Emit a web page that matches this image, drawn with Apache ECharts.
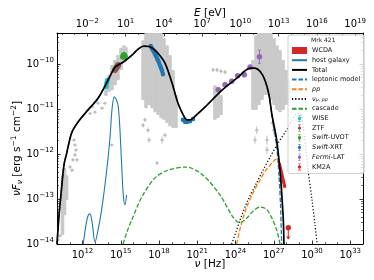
<!DOCTYPE html>
<html><head><meta charset="utf-8">
<script src="https://cdn.jsdelivr.net/npm/echarts@6/dist/echarts.min.js"></script>
<style>html,body{margin:0;padding:0;background:#fff}#c{width:374px;height:280px}</style>
</head><body><div id="c"></div>
<script>
// ---- axis ranges / ticks (log10 units) ----
const nuMin = 10, nuMax = 34;
const fluxMin = -14, fluxMax = -9.31;
const LOG_INV_H = 14.383;            // log10(nu/Hz) - log10(E/eV)
const nuTicks = [12, 15, 18, 21, 24, 27, 30, 33];
const eTicks = [-2, 1, 4, 7, 10, 13, 16, 19];
const fluxTicks = [-14, -13, -12, -11, -10];

// ---- model curves [log10 nu, log10 nuFnu] ----
const totalCurve = [[10.0,-14.0],[10.16,-13.36],[10.37,-12.73],[10.55,-12.24],[10.76,-11.98],[11.15,-11.53],[11.65,-11.29],[12.43,-11.02],[13.22,-10.76],[14.0,-10.36],[14.55,-10.07],[15.18,-9.96],[15.88,-9.80],[16.4,-9.66],[16.8,-9.6],[17.2,-9.61],[17.5,-9.65],[17.92,-9.76],[18.47,-9.98],[19.02,-10.42],[19.49,-10.87],[19.9,-11.13],[20.2,-11.24],[20.45,-11.24],[20.67,-11.2],[21.6,-10.96],[22.94,-10.58],[24.2,-10.29],[24.7,-10.16],[25.14,-10.09],[25.5,-10.09],[25.92,-10.16],[26.31,-10.36],[26.63,-10.69],[26.86,-11.13],[27.23,-11.69],[27.49,-12.36],[27.62,-12.87],[27.75,-13.47],[27.8,-14.0]];
const leptonicCurve = [[10.0,-14.0],[10.16,-13.36],[10.37,-12.73],[10.55,-12.24],[10.76,-11.98],[11.15,-11.53],[11.65,-11.29],[12.43,-11.02],[13.22,-10.76],[14.0,-10.36],[14.55,-10.07],[15.18,-9.96],[15.88,-9.80],[16.4,-9.66],[16.8,-9.6],[17.2,-9.61],[17.5,-9.65],[17.92,-9.76],[18.47,-9.98],[19.02,-10.42],[19.49,-10.87],[19.9,-11.13],[20.2,-11.24],[20.45,-11.24],[20.67,-11.2],[21.6,-10.96],[22.94,-10.58],[24.2,-10.29],[24.7,-10.16],[25.14,-10.09],[25.5,-10.09],[25.92,-10.16],[26.31,-10.36],[26.63,-10.69],[26.86,-11.15],[27.23,-11.84],[27.41,-12.47],[27.53,-13.13],[27.62,-14.0]];
const hostGalaxy = [[12.06,-14.0],[12.27,-13.58],[12.45,-13.36],[12.59,-13.33],[12.75,-13.51],[12.98,-13.96],[13.14,-13.8],[13.5,-13.24],[13.9,-12.36],[14.16,-11.62],[14.31,-11.02],[14.49,-10.73],[14.67,-10.8],[14.81,-10.96],[14.94,-11.47],[15.07,-12.24],[15.2,-12.91],[15.33,-13.13],[15.46,-12.91]];
const ppCurve = [[24.09,-14.0],[24.43,-13.58],[24.88,-13.18],[25.37,-12.87],[25.92,-12.58],[26.39,-12.36],[26.86,-12.2],[27.23,-12.11],[27.41,-12.18],[27.57,-12.47],[27.65,-13.02]];
const numuCurve = [[23.7,-14.0],[24.04,-13.73],[24.35,-13.47],[24.98,-13.02],[25.66,-12.64],[26.16,-12.36],[26.71,-12.07],[27.33,-11.76],[28.0,-11.47],[28.67,-11.13],[29.06,-11.1],[29.4,-11.6],[29.69,-12.36],[30.0,-13.02],[30.24,-13.58],[30.4,-14.0]];
const cascadeCurve = [[15.18,-14.0],[15.49,-13.73],[15.86,-13.47],[16.64,-12.96],[17.69,-12.53],[18.71,-12.36],[20.12,-12.29],[21.45,-12.47],[22.78,-12.91],[23.8,-13.4],[24.35,-13.53],[24.9,-13.42],[25.37,-13.27],[25.92,-13.18],[26.39,-13.22],[26.78,-13.38],[27.23,-13.69],[27.49,-14.0]];
const wcdaBand = [[27.43,-12.2],[27.88,-12.75]];

// ---- data points [log nu, log nuFnu, error (dex)] ----
const wisePts = [[13.86,-10.5,0.03],[13.9,-10.42,0.03],[13.95,-10.36,0.03]];
const ztfPts = [[14.55,-10.13,0.02],[14.62,-10.1,0.02],[14.68,-10.07,0.02],[14.74,-10.05,0.02],[14.8,-10.02,0.02]];
const uvotPts = [[15.18,-9.84,0.03],[15.25,-9.8,0.03],[15.32,-9.83,0.03]];
const xrtPts = [[17.35,-9.6,0.03],[17.42,-9.64,0.03],[17.5,-9.68,0.03],[17.57,-9.71,0.03],[17.64,-9.75,0.03],[17.71,-9.79,0.03],[17.78,-9.83,0.03],[17.86,-9.88,0.03],[17.93,-9.92,0.03],[18.0,-9.97,0.03],[18.08,-10.03,0.03],[18.16,-10.09,0.04],[18.24,-10.15,0.04],[18.31,-10.22,0.04],
  [19.88,-11.24,0.03],[20.04,-11.28,0.03],[20.2,-11.29,0.03],[20.43,-11.27,0.03],[20.67,-11.22,0.03]];
const fermiPts = [[22.65,-10.57,0.04],[23.18,-10.46,0.04],[23.7,-10.38,0.04],[24.17,-10.26,0.04],[24.69,-10.24,0.04],[25.14,-10.07,0.05],[25.88,-9.84,0.15]];
const km2aPts = [[28.14,-13.64]];

// ---- archival (grey) data: vertical clusters [log nu, low, high] and single points [log nu, log nuFnu, err] ----
const archivalClusters = [[10.43,-13.8,-12.47],[10.59,-13.36,-12.31],[10.75,-13.02,-12.47],
 [13.84,-10.71,-10.4],[14.08,-10.62,-10.24],[14.31,-10.58,-10.02],[14.55,-10.47,-9.91],[14.78,-10.36,-9.8],[15.02,-10.13,-9.64],[15.25,-9.96,-9.58],[15.41,-9.91,-9.62],
 [16.75,-10.8,-9.47],[16.98,-10.98,-9.31],[17.22,-10.91,-9.2],[17.45,-10.98,-9.2],[17.69,-11.07,-9.2],[17.92,-11.13,-9.2],[18.16,-11.2,-9.31],[18.39,-11.24,-9.42],[18.63,-11.31,-9.58],[18.86,-11.38,-9.8],[19.1,-11.42,-10.13],[19.33,-11.42,-10.69],
 [22.39,-11.24,-10.47],[22.63,-11.2,-10.53],[22.86,-11.13,-10.69],
 [25.37,-11.02,-9.91],[25.61,-11.02,-9.36],[25.84,-10.91,-9.2],[26.08,-10.8,-9.2],[26.31,-10.69,-9.2],[26.55,-10.69,-9.2],[26.78,-10.8,-9.31],[27.02,-10.91,-9.42],[27.25,-11.02,-9.58],[27.49,-11.07,-9.69],[27.73,-11.02,-9.91],[27.96,-10.91,-10.13],[28.2,-10.8,-10.36]];
const archivalPts = [[10.08,-13.91,0.03],[10.24,-13.82,0.03],[11.02,-12.29,0.04],[11.25,-12.13,0.04],[11.41,-12.02,0.04],[11.41,-11.8,0.04],[11.49,-11.91,0.04],[11.57,-12.13,0.04],[11.18,-12.36,0.04],[11.33,-11.69,0.04],
 [12.43,-11.02,0.03],[12.6,-11.1,0.03],[12.75,-10.95,0.03],[12.98,-11.07,0.03],[13.22,-10.87,0.03],[13.53,-10.98,0.03],[13.76,-10.87,0.03],[14.29,-11.8,0.03],
 [16.75,-11.36,0.05],[16.9,-11.24,0.05],[17.14,-11.47,0.06],[17.22,-11.69,0.06],[18.24,-11.69,0.08],[17.84,-12.2,0.04],[18.47,-11.58,0.05],
 [22.24,-10.13,0.05],[22.55,-10.13,0.05],[22.86,-10.16,0.05],[23.18,-10.18,0.05],
 [25.53,-11.69,0.08],[25.66,-11.47,0.08],[26.47,-11.69,0.1],[26.47,-11.91,0.08],[26.9,-11.31,0.08],[27.0,-11.47,0.08]];

const COL = {blue:'#1f77b4', orange:'#ff7f0e', green:'#2ca02c', red:'#d62728', purple:'#9467bd', brown:'#8c564b', cyan:'#17becf', grey:'#c9c9c9'};
const FONT = 'DejaVu Sans';

function supLabel(v){ const s = v < 0 ? '\u2212' + Math.abs(v) : String(v); return '{b|10}{s|' + s + '}'; }
const tickRich = {b:{fontSize:10, lineHeight:14, fontFamily:FONT, color:'#000'}, s:{fontSize:7, lineHeight:8, verticalAlign:'top', fontFamily:FONT, color:'#000'}};

const minorNu = []; for (let k = nuMin; k <= nuMax; k++) if (!nuTicks.includes(k)) minorNu.push(k);
const minorE = []; for (let k = Math.ceil(nuMin - LOG_INV_H); k <= nuMax - LOG_INV_H; k++) if (!eTicks.includes(k)) minorE.push(k);
const minorF = []; for (let d = -15; d < -9; d++) for (let m = 2; m <= 9; m++) { const v = d + Math.log10(m); if (v > fluxMin && v < fluxMax) minorF.push(v); }

function xAx(pos, min, max, major, minor, margin){
  return [
    {type:'value', position:pos, min, max, axisLine:{show:true, onZero:false, lineStyle:{color:'#000', width:1}},
     axisTick:{show:true, inside:true, length:3.5, customValues:major, lineStyle:{color:'#000', width:0.8}},
     axisLabel:{show:true, customValues:major, margin, formatter:supLabel, rich:tickRich},
     splitLine:{show:false}},
    {type:'value', position:pos, min, max, axisLine:{show:false, onZero:false},
     axisTick:{show:true, inside:true, length:2, customValues:minor, lineStyle:{color:'#000', width:0.6}},
     axisLabel:{show:false}, splitLine:{show:false}}
  ];
}
function yAx(pos, labels){
  return [
    {type:'value', position:pos, min:fluxMin, max:fluxMax, axisLine:{show:true, onZero:false, lineStyle:{color:'#000', width:1}},
     axisTick:{show:true, inside:true, length:3.5, customValues:fluxTicks, lineStyle:{color:'#000', width:0.8}},
     axisLabel:{show:labels, customValues:fluxTicks, margin:3, formatter:supLabel, rich:tickRich},
     splitLine:{show:false}},
    {type:'value', position:pos, min:fluxMin, max:fluxMax, axisLine:{show:false, onZero:false},
     axisTick:{show:true, inside:true, length:2, customValues:minorF, lineStyle:{color:'#000', width:0.6}},
     axisLabel:{show:false}, splitLine:{show:false}}
  ];
}
const nameStyle = {fontSize:10.5, fontFamily:FONT, color:'#000', rich:{i:{fontStyle:'italic', fontSize:10.5, fontFamily:FONT}}};
const xAxes = [...xAx('bottom', nuMin, nuMax, nuTicks, minorNu, 4), ...xAx('top', nuMin - LOG_INV_H, nuMax - LOG_INV_H, eTicks, minorE, 1.5)];
Object.assign(xAxes[0], {name:'{i|\u03bd} [Hz]', nameLocation:'middle', nameGap:15, nameMoveOverlap:false, nameTextStyle:nameStyle});
Object.assign(xAxes[2], {name:'{i|E} [eV]', nameLocation:'middle', nameGap:14, nameMoveOverlap:false, nameTextStyle:nameStyle});
const yAxes = [...yAx('left', true), ...yAx('right', false)];
Object.assign(yAxes[0], {
  name:'{i|\u03bdF}{sub|\u03bd} [erg s{sup|\u22121} cm{sup|\u22122}]',
  nameLocation:'middle', nameGap:33, nameRotate:90, nameMoveOverlap:false,
  nameTextStyle:{fontSize:10.5, fontFamily:FONT, color:'#000', padding:[0,20,0,0], rich:{
    i:{fontStyle:'italic', fontSize:10.5, fontFamily:FONT, lineHeight:14},
    sub:{fontStyle:'italic', fontSize:7.5, fontFamily:FONT, verticalAlign:'bottom', lineHeight:9},
    sup:{fontSize:7.5, fontFamily:FONT, verticalAlign:'top', lineHeight:9}}}
});

function line(name, data, color, width, type, z){
  return {type:'line', name, data, symbol:'none', showSymbol:false, smooth:0.3, clip:true, z:z || 2,
    xAxisIndex:0, yAxisIndex:0, lineStyle:{color, width, type}, itemStyle:{color}, emphasis:{disabled:true}};
}
function errBars(data, color, z){
  return {type:'custom', name:'_err', data, clip:true, z:z, silent:true, xAxisIndex:0, yAxisIndex:0, encode:{x:0, y:1},
    renderItem(p, api){
      const x = api.value(0), y = api.value(1), e = api.value(2);
      const a = api.coord([x, y - e]), b = api.coord([x, y + e]);
      return {type:'group', children:[
        {type:'line', shape:{x1:a[0], y1:a[1], x2:b[0], y2:b[1]}, style:{stroke:color, lineWidth:1}},
        {type:'line', shape:{x1:a[0]-1.5, y1:a[1], x2:a[0]+1.5, y2:a[1]}, style:{stroke:color, lineWidth:0.8}},
        {type:'line', shape:{x1:b[0]-1.5, y1:b[1], x2:b[0]+1.5, y2:b[1]}, style:{stroke:color, lineWidth:0.8}}]};
    }};
}
function pts(name, data, color, size, z){
  return {type:'scatter', name, data:data.map(d => [d[0], d[1]]), symbol:'circle', symbolSize:size, clip:true, z:z || 4,
    xAxisIndex:0, yAxisIndex:0, itemStyle:{color, opacity:1}, emphasis:{disabled:true}};
}

const series = [
  {type:'custom', name:'_archival', data:archivalClusters, clip:true, z:1, silent:true, encode:{x:0, y:[1,2]},
   renderItem(p, api){
     const x = api.value(0), lo = api.value(1), hi = api.value(2);
     const a = api.coord([x, hi]), b = api.coord([x, lo]);
     return {type:'rect', shape:{x:a[0]-1.8, y:a[1], width:3.6, height:b[1]-a[1], r:1.2}, style:{fill:COL.grey}};
   }},
  {type:'custom', name:'_archivalPts', data:archivalPts, clip:true, z:1, silent:true, encode:{x:0, y:1},
   renderItem(p, api){
     const x = api.value(0), y = api.value(1), e = api.value(2);
     const c = api.coord([x, y]), a = api.coord([x, y - e]), b = api.coord([x, y + e]);
     return {type:'group', children:[
       {type:'line', shape:{x1:a[0], y1:a[1], x2:b[0], y2:b[1]}, style:{stroke:'#bdbdbd', lineWidth:1}},
       {type:'line', shape:{x1:c[0]-1.8, y1:c[1], x2:c[0]+1.8, y2:c[1]}, style:{stroke:'#bdbdbd', lineWidth:1}},
       {type:'circle', shape:{cx:c[0], cy:c[1], r:1.3}, style:{fill:'#bdbdbd'}}]};
   }},
  line('WCDA', wcdaBand, COL.red, 3.2, 'solid', 3),
  line('host galaxy', hostGalaxy, COL.blue, 1.1, 'solid', 2),
  line('leptonic model', leptonicCurve, COL.blue, 1.3, [4.5,2], 2),
  line('pp', ppCurve, COL.orange, 1.3, [4.5,2], 2),
  line('\u03bd\u03bc,pp', numuCurve, '#000', 1.2, [1.2,2], 2),
  line('cascade', cascadeCurve, COL.green, 1.3, [4.5,2], 2),
  errBars(wisePts, COL.cyan, 3), errBars(ztfPts, COL.brown, 3), errBars(uvotPts, COL.green, 3),
  errBars(xrtPts, COL.blue, 3), errBars(fermiPts, COL.purple, 3),
  pts('WISE', wisePts, COL.cyan, 5), pts('ZTF', ztfPts, COL.brown, 6), pts('Swift-UVOT', uvotPts, COL.green, 6),
  pts('Swift-XRT', xrtPts, COL.blue, 4.5), pts('Fermi-LAT', fermiPts, COL.purple, 5.5),
  line('Total', totalCurve, '#000', 1.7, 'solid', 5),
  {type:'custom', name:'KM2A', data:km2aPts, clip:true, z:6, encode:{x:0, y:1}, itemStyle:{color:COL.red},
   renderItem(p, api){
     const x = api.value(0), y = api.value(1);
     const c = api.coord([x, y]), b = api.coord([x, y - 0.25]);
     return {type:'group', children:[
       {type:'line', shape:{x1:c[0], y1:c[1], x2:b[0], y2:b[1]}, style:{stroke:COL.red, lineWidth:1}},
       {type:'polygon', shape:{points:[[b[0]-2.2, b[1]-2.5],[b[0]+2.2, b[1]-2.5],[b[0], b[1]+0.5]]}, style:{fill:COL.red}},
       {type:'circle', shape:{cx:c[0], cy:c[1], r:2.7}, style:{fill:COL.red}}]};
   }}
];

const ERR_ICON = 'path://M4.6,0H5.4V10H4.6Z M3,0H7V0.8H3Z M3,9.2H7V10H3Z M7.4,5A2.4,2.4,0,1,1,2.6,5A2.4,2.4,0,1,1,7.4,5Z';
const legendNames = ['WCDA','host galaxy','Total','leptonic model','pp','\u03bd\u03bc,pp','cascade','WISE','ZTF','Swift-UVOT','Swift-XRT','Fermi-LAT','KM2A'];
const legendFmt = {'pp':'{i|pp}', '\u03bd\u03bc,pp':'{i|\u03bd}{sub|\u03bc, pp}', 'Swift-UVOT':'{i|Swift}-UVOT', 'Swift-XRT':'{i|Swift}-XRT', 'Fermi-LAT':'{i|Fermi}-LAT'};
const pointNames = ['WISE','ZTF','Swift-UVOT','Swift-XRT','Fermi-LAT','KM2A'];

const option = {
  animation:false,
  backgroundColor:'#fff',
  textStyle:{fontFamily:FONT},
  grid:{left:57, right:11, top:33, bottom:36, containLabel:false, outerBoundsMode:'none'},
  xAxis:xAxes,
  yAxis:yAxes,
  title:{text:'Mrk 421', left:311, top:37, textStyle:{fontSize:6, fontWeight:'normal', fontFamily:FONT, color:'#222'}, padding:0, z:10},
  legend:{
    orient:'vertical', left:288, top:35, selectedMode:false, z:8,
    itemWidth:15, itemHeight:7, itemGap:2.7,
    padding:[12,4,3,3],
    backgroundColor:'rgba(255,255,255,0.8)', borderColor:'#cfcfcf', borderWidth:1, borderRadius:2,
    textStyle:{fontSize:6.5, fontFamily:FONT, color:'#111', lineHeight:7,
      rich:{i:{fontStyle:'italic', fontSize:6.5, fontFamily:FONT, lineHeight:7},
            sub:{fontStyle:'italic', fontSize:4.8, fontFamily:FONT, verticalAlign:'bottom', lineHeight:6}}},
    formatter:n => legendFmt[n] || n,
    data:legendNames.map(n => {
      if (n === 'WCDA') return {name:n, icon:'rect'};
      if (pointNames.includes(n)) return {name:n, icon:ERR_ICON};
      return {name:n, itemStyle:{opacity:0}};
    })
  },
  series
};
const chart = echarts.init(document.getElementById('c'), null, {renderer:'canvas'});
chart.setOption(option);
</script></body></html>
